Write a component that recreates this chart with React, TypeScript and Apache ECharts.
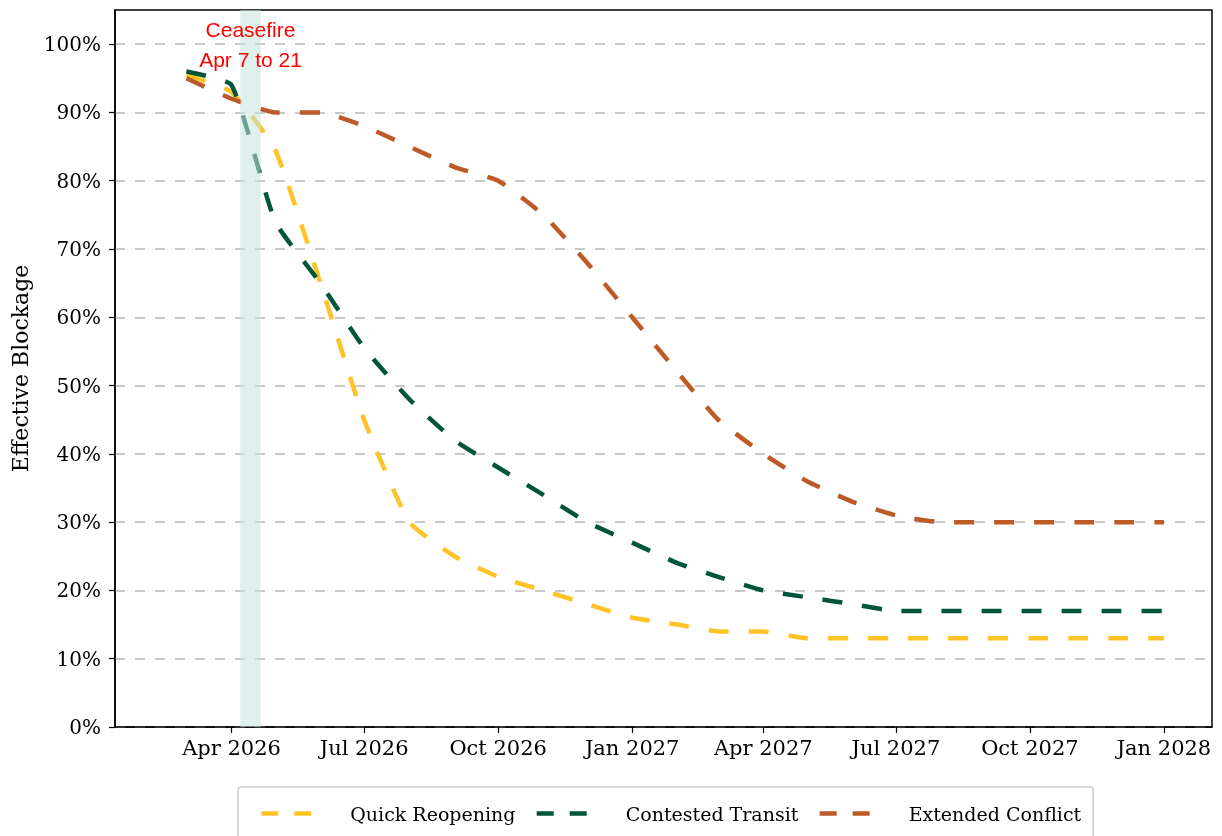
import React, { useEffect, useRef } from "react";
import * as echarts from "echarts";

// Monthly points, Mar 2026 .. Jan 2028 (year, monthIndex)
const months: [number, number][] = [
  [2026, 2], [2026, 3], [2026, 4], [2026, 5], [2026, 6], [2026, 7], [2026, 8], [2026, 9], [2026, 10], [2026, 11],
  [2027, 0], [2027, 1], [2027, 2], [2027, 3], [2027, 4], [2027, 5], [2027, 6], [2027, 7], [2027, 8], [2027, 9], [2027, 10], [2027, 11],
  [2028, 0],
];

const quickReopening = [95.5, 93, 84.5, 65, 45, 30, 25, 22, 20, 18, 16, 15, 14, 14, 13, 13, 13, 13, 13, 13, 13, 13, 13];
const contestedTransit = [96, 94, 74, 65, 55.5, 48, 42, 38, 34, 30, 27, 24, 22, 20, 19, 18, 17, 17, 17, 17, 17, 17, 17];
const extendedConflict = [95, 92, 90, 90, 88, 85, 82, 80, 75, 68, 60, 52, 45, 40, 36, 33, 31, 30, 30, 30, 30, 30, 30];

const seriesNames = ["Quick Reopening", "Contested Transit", "Extended Conflict"];
const seriesColors = ["#ffc328", "#00553c", "#be5a28"];

const xTickDates: [number, number][] = [
  [2026, 3], [2026, 6], [2026, 9], [2027, 0], [2027, 3], [2027, 6], [2027, 9], [2028, 0],
];
const xTickLabels = ["Apr 2026", "Jul 2026", "Oct 2026", "Jan 2027", "Apr 2027", "Jul 2027", "Oct 2027", "Jan 2028"];
const yTicks = [0, 10, 20, 30, 40, 50, 60, 70, 80, 90, 100];

const ceasefireStart: [number, number, number] = [2026, 3, 7];
const ceasefireEnd: [number, number, number] = [2026, 3, 21];
const xMin: [number, number, number] = [2026, 0, 11];
const xMax: [number, number, number] = [2028, 1, 3];

const ts = (y: number, m: number, d = 1) => Date.UTC(y, m, d);

export default function App() {
  const ref = useRef<HTMLDivElement>(null);
  useEffect(() => {
    if (!ref.current) return;
    const chart = echarts.init(ref.current, undefined, { renderer: "svg" });
    const serif = "DejaVu Serif";
    const tickTs = xTickDates.map(([y, m]) => ts(y, m));
    const labelMap: Record<number, string> = {};
    tickTs.forEach((t, i) => (labelMap[t] = xTickLabels[i]));
    const allData = [quickReopening, contestedTransit, extendedConflict];

    const lineSeries = allData.map((vals, i) => ({
      name: seriesNames[i],
      type: "line",
      data: months.map(([y, m], j) => [ts(y, m), vals[j]]),
      showSymbol: false,
      symbol: "none",
      smooth: 0.15,
      z: 2,
      lineStyle: { color: seriesColors[i], width: 4.5, type: [20, 20] },
      itemStyle: { color: seriesColors[i] },
    }));

    chart.setOption({
      animation: false,
      grid: {
        left: 115,
        right: 10,
        top: 10,
        bottom: 109,
        show: true,
        borderColor: "#000",
        borderWidth: 1.5,
        backgroundColor: "transparent",
      },
      xAxis: {
        type: "value",
        min: ts(...xMin),
        max: ts(...xMax),
        scale: true,
        axisLine: { show: true, onZero: false, lineStyle: { color: "#000", width: 1.5 } },
        axisTick: { show: true, length: 6, lineStyle: { color: "#000", width: 1.2 }, customValues: tickTs },
        axisLabel: {
          customValues: tickTs,
          formatter: (v: number) => labelMap[v] ?? "",
          fontFamily: serif,
          fontSize: 21,
          color: "#000",
          margin: 10,
        },
        splitLine: { show: false },
      },
      yAxis: {
        type: "value",
        min: 0,
        max: 105,
        interval: 10,
        name: "Effective Blockage",
        nameLocation: "middle",
        nameGap: 84,
        nameTextStyle: { fontFamily: serif, fontSize: 22, color: "#000" },
        axisLine: { show: true, lineStyle: { color: "#000", width: 1.5 } },
        axisTick: { show: true, length: 6, lineStyle: { color: "#000", width: 1.2 }, customValues: yTicks },
        axisLabel: {
          customValues: yTicks,
          formatter: (v: number) => `${v}%`,
          fontFamily: serif,
          fontSize: 20,
          color: "#000",
          margin: 14,
        },
        splitLine: { show: true, lineStyle: { color: "#c8c8c8", width: 2, type: [10, 10] } },
      },
      legend: {
        data: seriesNames,
        left: 238,
        top: 787,
        orient: "horizontal",
        itemWidth: 50,
        itemHeight: 20,
        itemGap: 19,
        padding: [17, 12, 17, 21],
        borderColor: "#cccccc",
        borderWidth: 1.5,
        borderRadius: 3,
        backgroundColor: "#fff",
        textStyle: { fontFamily: serif, fontSize: 19, color: "#000", padding: [0, 0, 0, 34] },
        itemStyle: { opacity: 0, borderWidth: 0 },
        lineStyle: { width: 4.5, type: [17, 16] },
      },
      series: [
        ...lineSeries,
        {
          name: "ceasefire",
          type: "custom",
          z: 10,
          silent: true,
          data: [[ts(...ceasefireStart), ts(...ceasefireEnd)]],
          encode: { x: [0, 1] },
          renderItem: (params: any, api: any) => {
            const cs = params.coordSys;
            const s = api.coord([api.value(0), 0]);
            const e = api.coord([api.value(1), 0]);
            return {
              type: "rect",
              shape: { x: s[0], y: cs.y, width: e[0] - s[0], height: cs.height },
              style: { fill: "rgba(197,227,220,0.54)" },
            };
          },
        },
      ],
      graphic: [
        {
          type: "text",
          style: {
            text: "Ceasefire",
            x: 250.5,
            y: 29,
            align: "center",
            verticalAlign: "middle",
            fill: "#ff0000",
            font: '21px "Liberation Sans"',
          },
          z: 20,
        },
        {
          type: "text",
          style: {
            text: "Apr 7 to 21",
            x: 250.5,
            y: 59,
            align: "center",
            verticalAlign: "middle",
            fill: "#ff0000",
            font: '21px "Liberation Sans"',
          },
          z: 20,
        },
      ],
    });
    return () => chart.dispose();
  }, []);
  return <div ref={ref} style={{ position: "fixed", left: 0, top: 0, width: 1222, height: 836 }} />;
}
